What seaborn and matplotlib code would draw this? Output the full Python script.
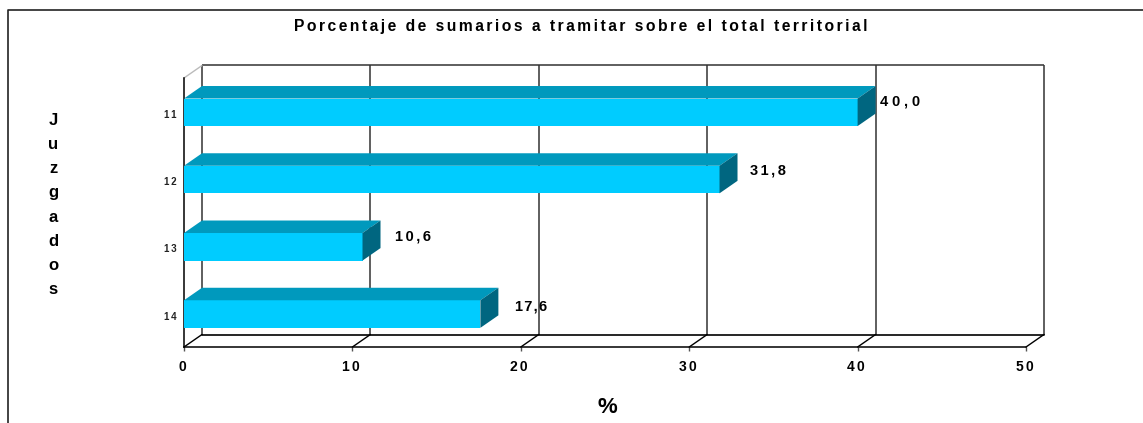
import matplotlib
matplotlib.use("Agg")
import matplotlib.pyplot as plt
from matplotlib.lines import Line2D
from matplotlib.patches import Polygon
from matplotlib.transforms import ScaledTranslation
import seaborn as sns
import pandas as pd

juzgados = ["11", "12", "13", "14"]
porcentaje = [40.0, 31.8, 10.6, 17.6]
etiquetas = ["40,0", "31,8", "10,6", "17,6"]
x_ticks = [0, 10, 20, 30, 40, 50]
titulo = "Porcentaje de sumarios a tramitar sobre el total territorial"

W, H = 1143, 423
AX_L, AX_R, AX_T, AX_B = 184, 1026, 78, 347
DEPTH_X, DEPTH_Y = 18, 12.5
FRONT, TOP, SIDE = "#00CCFF", "#0099BD", "#006680"
HAIR = "\u200a"


def spaced(s, n=1):
    return (HAIR * n).join(s)


sns.set_theme(style="white")
plt.rcParams["font.family"] = ["Liberation Sans", "DejaVu Sans"]
plt.rcParams["font.weight"] = "bold"

fig = plt.figure(figsize=(W / 100, H / 100), dpi=100, facecolor="white")
ax = fig.add_axes([AX_L / W, (H - AX_B) / H, (AX_R - AX_L) / W, (AX_B - AX_T) / H])
ax.set_facecolor("none")

df = pd.DataFrame({"juzgado": juzgados, "pct": porcentaje})
BAR_W = 0.41
sns.barplot(data=df, x="pct", y="juzgado", orient="h", color=FRONT, saturation=1,
            width=BAR_W, ax=ax, zorder=4, linewidth=0)
y_lo, y_hi = 3.49, -0.51
ax.set_xlim(0, 50)
ax.set_ylim(y_lo, y_hi)

# depth of the 3D box expressed in data units
dx = DEPTH_X * 50 / (AX_R - AX_L)
dy = DEPTH_Y * 4 / (AX_B - AX_T)
wall = dict(color="#333333", lw=1.1, clip_on=False, zorder=1, solid_capstyle="butt")

for t in x_ticks:
    ax.plot([t + dx, t + dx], [y_lo - dy, y_hi - dy], **wall)
    ax.plot([t, t + dx], [y_lo, y_lo - dy], color="black", lw=1, clip_on=False, zorder=2)
ax.plot([dx, 50 + dx], [y_hi - dy, y_hi - dy], **wall)
ax.plot([dx, 50 + dx], [y_lo - dy, y_lo - dy], color="black", lw=1.2, clip_on=False, zorder=2)
ax.plot([0, dx], [y_hi, y_hi - dy], color="#BBBBBB", lw=1, clip_on=False, zorder=1)

for i, v in enumerate(porcentaje):
    t, b = i - BAR_W / 2, i + BAR_W / 2
    ax.add_patch(Polygon([(0, t), (v, t), (v + dx, t - dy), (dx, t - dy)],
                         closed=True, fc=TOP, ec="none", zorder=4, clip_on=False))
    ax.add_patch(Polygon([(v, t), (v + dx, t - dy), (v + dx, b - dy), (v, b)],
                         closed=True, fc=SIDE, ec="none", zorder=4, clip_on=False))

# value labels, nudged in pixels as in the reference
label_dx = [22, 30, 32, 35]
label_dy = [11, 9, 10, 8]
label_sp = [3, 2, 2, 1]
for i, (v, s) in enumerate(zip(porcentaje, etiquetas)):
    ax.annotate(spaced(s, label_sp[i]), xy=(v, i), xycoords="data",
                xytext=(label_dx[i], label_dy[i]), textcoords="offset pixels",
                ha="left", va="center", fontsize=10.5, fontweight="bold",
                color="black", zorder=6, annotation_clip=False)

for side in ("top", "right"):
    ax.spines[side].set_visible(False)
for side in ("left", "bottom"):
    ax.spines[side].set_visible(True)
    ax.spines[side].set_color("black")
    ax.spines[side].set_linewidth(1.1)
    ax.spines[side].set_zorder(3)

ax.set_xticks(x_ticks)
ax.set_xticklabels([spaced(str(t), 2) for t in x_ticks], fontsize=10, fontweight="bold", color="black")
ax.tick_params(axis="x", length=3, width=1, color="#555555", pad=6.5, bottom=True)
ax.set_yticks(range(4))
ax.set_yticklabels([spaced(j, 2) for j in juzgados], fontsize=7, fontweight="bold", color="#222222")
ax.tick_params(axis="y", length=0, pad=5.5)
for lab in ax.get_xticklabels():
    lab.set_transform(lab.get_transform() + ScaledTranslation(-1.5 / 100, 0, fig.dpi_scale_trans))
for lab in ax.get_yticklabels():
    lab.set_transform(lab.get_transform() + ScaledTranslation(0, -1.5 / 100, fig.dpi_scale_trans))

ax.set_title(spaced(titulo, 2), x=(581 - AX_L) / (AX_R - AX_L), y=(AX_B - 27) / (AX_B - AX_T),
             va="center", ha="center", fontsize=11.25, fontweight="bold", color="black", pad=0)
ax.set_xlabel("%", fontsize=16, fontweight="bold", color="black")
ax.xaxis.set_label_coords((607 - AX_L) / (AX_R - AX_L), -(407.5 - AX_B) / (AX_B - AX_T))
ax.xaxis.label.set_va("center")
ax.set_ylabel("\n".join("Juzgados"), rotation=0, fontsize=12, fontweight="bold", color="black",
              ha="center", va="center", linespacing=1.76)
ax.yaxis.set_label_coords((53 - AX_L) / (AX_R - AX_L), 1 - (205 - AX_T) / (AX_B - AX_T))

# outer chart border (open at right/bottom because the picture is cropped)
fig.add_artist(Line2D([8 / W, 8 / W, 1], [0, 1 - 10.5 / H, 1 - 10.5 / H],
                      color="#222222", lw=1.2, transform=fig.transFigure))

fig.savefig("out.png", dpi=100, facecolor="white")
